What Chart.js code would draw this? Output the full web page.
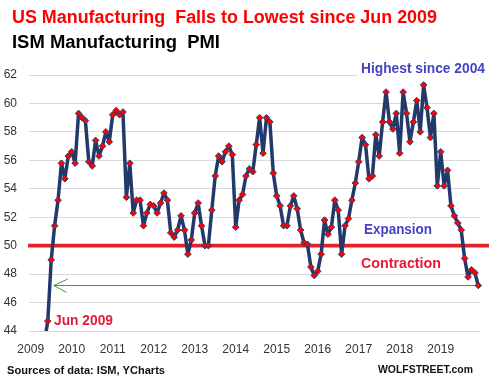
<!DOCTYPE html>
<html>
<head>
<meta charset="utf-8">
<script src="https://cdn.jsdelivr.net/npm/chart.js@4.4.1/dist/chart.umd.min.js"></script>
<style>
  html, body { margin: 0; padding: 0; background: #fff; }
  #wrap { position: relative; width: 489px; height: 384px; overflow: hidden; background: #fff; }
  #c { position: absolute; left: 0; top: 0; }
  .t { position: absolute; white-space: pre; line-height: 1; font-family: "Liberation Sans", Arial, sans-serif; font-weight: bold; transform-origin: 0 0; }
  .box { position: absolute; background: #fff; }
</style>
</head>
<body>
<div id="wrap">
  <canvas id="c" width="489" height="384"></canvas>
  <div class="t" data-w="425" style="left:12px; top:7.8px; font-size:18px; color:#ff0000;">US Manufacturing  Falls to Lowest since Jun 2009</div>
  <div class="t" data-w="208" style="left:12px; top:32.8px; font-size:18px; color:#000;">ISM Manufacturing  PMI</div>
  <div class="box" style="left:357px; top:60px; width:132px; height:17px;"></div>
  <div class="t" data-w="124" style="left:361px; top:60.3px; font-size:15px; color:#4343c8;">Highest since 2004</div>
  <div class="t" data-w="68" style="left:364px; top:222px; font-size:14.5px; color:#4343c8;">Expansion</div>
  <div class="t" data-w="80" style="left:361px; top:256px; font-size:14.5px; color:#e8183a;">Contraction</div>
  <div class="t" data-w="59" style="left:54px; top:311.5px; font-size:15px; color:#e8183a;">Jun 2009</div>
  <div class="t" data-w="158" style="left:7px; top:364.7px; font-size:11px; color:#111;">Sources of data: ISM, YCharts</div>
  <div class="t" data-w="95" style="left:378px; top:364.3px; font-size:11.5px; color:#111;">WOLFSTREET.com</div>
</div>
<script>
// ---- data ----
const startYear = 2009;
const startMonth = 5; // May 2009 (May value falls below the axis and is clipped)
const pmi = [
  // 2009 May-Dec
  43.2, 44.7, 49.0, 51.4, 53.2, 55.8, 54.7, 56.3,
  // 2010
  56.6, 55.8, 59.3, 59.0, 58.8, 55.9, 55.6, 57.4, 56.3, 57.0, 58.0, 57.3,
  // 2011
  59.2, 59.5, 59.2, 59.4, 53.4, 55.8, 52.3, 53.2, 53.2, 51.4, 52.3, 52.9,
  // 2012
  52.8, 52.3, 53.0, 53.7, 53.2, 50.9, 50.6, 51.1, 52.1, 51.1, 49.4, 50.4,
  // 2013
  52.3, 53.0, 51.4, 50.0, 50.0, 52.5, 54.9, 56.3, 55.9, 56.6, 57.0, 56.4,
  // 2014
  51.3, 53.2, 53.6, 54.9, 55.4, 55.2, 57.1, 59.0, 56.5, 59.0, 58.7, 55.1,
  // 2015
  53.5, 52.8, 51.4, 51.4, 52.8, 53.5, 52.6, 51.1, 50.2, 50.1, 48.5, 47.9,
  // 2016
  48.2, 49.4, 51.8, 50.8, 51.3, 53.2, 52.5, 49.4, 51.4, 51.9, 53.2, 54.4,
  // 2017
  55.9, 57.6, 57.1, 54.7, 54.9, 57.8, 56.3, 58.7, 60.8, 58.7, 58.2, 59.3,
  // 2018
  56.5, 60.8, 59.3, 57.3, 58.7, 60.2, 58.0, 61.3, 59.7, 57.6, 59.3, 54.2,
  // 2019
  56.6, 54.2, 55.3, 52.8, 52.1, 51.6, 51.1, 49.1, 47.8, 48.3, 48.1, 47.2
];
const yearLabels = [2009, 2010, 2011, 2012, 2013, 2014, 2015, 2016, 2017, 2018, 2019];
const yMin = 44, yMax = 62, yStep = 2;
const expansionLevel = 50;

// months since Jan of the first year label
const points = pmi.map((v, i) => ({ x: (startMonth - 1) + i, y: v }));
const xMin = -0.5;
const xMax = (yearLabels[yearLabels.length - 1] - yearLabels[0] + 1) * 12 - 0.5;

const refLines = {
  id: 'refLines',
  beforeDatasetsDraw(chart) {
    const { ctx, chartArea } = chart;
    const xs = chart.scales.x, ys = chart.scales.y;
    // 50 line
    const y50 = ys.getPixelForValue(expansionLevel);
    ctx.save();
    ctx.strokeStyle = '#e3222b';
    ctx.lineWidth = 3.6;
    ctx.beginPath();
    ctx.moveTo(chartArea.left - 1, y50);
    ctx.lineTo(chart.width, y50);
    ctx.stroke();
    // green arrow from last value back to where it was first crossed
    const last = points[points.length - 1];
    let crossX = points[0].x;
    for (let i = 0; i < points.length - 1; i++) {
      const a = points[i], b = points[i + 1];
      if ((a.y - last.y) * (b.y - last.y) <= 0) {
        crossX = a.x + (last.y - a.y) / (b.y - a.y) * (b.x - a.x);
        break;
      }
    }
    const yA = Math.round(ys.getPixelForValue(last.y)) + 0.5;
    const tipX = xs.getPixelForValue(crossX) + 4;
    const endX = xs.getPixelForValue(last.x);
    ctx.strokeStyle = '#3a9e3a';
    ctx.lineWidth = 1;
    ctx.beginPath();
    ctx.moveTo(tipX, yA);
    ctx.lineTo(endX, yA);
    ctx.moveTo(tipX + 14, yA - 6.5);
    ctx.lineTo(tipX, yA);
    ctx.lineTo(tipX + 13, yA + 7);
    ctx.stroke();
    ctx.restore();
  }
};

new Chart(document.getElementById('c'), {
  type: 'line',
  data: {
    datasets: [{
      data: points,
      borderColor: '#213a6b',
      borderWidth: 3.5,
      borderJoinStyle: 'round',
      borderCapStyle: 'round',
      tension: 0,
      pointStyle: 'rectRot',
      pointRadius: 3.3,
      pointBackgroundColor: '#ff0000',
      pointBorderColor: '#2a3f6e',
      pointBorderWidth: 1,
      fill: false,
      clip: { left: 5, right: 10, top: 5, bottom: 0 }
    }]
  },
  options: {
    responsive: false,
    animation: false,
    devicePixelRatio: 1,
    layout: { padding: { top: 75, right: 9, left: 0, bottom: 0 } },
    plugins: { legend: { display: false }, tooltip: { enabled: false }, title: { display: false } },
    scales: {
      x: {
        type: 'linear',
        min: xMin,
        max: xMax,
        afterBuildTicks(scale) {
          scale.ticks = yearLabels.map(y => ({ value: (y - yearLabels[0]) * 12 }));
        },
        afterFit(scale) { scale.height = 53; },
        grid: { display: false, drawTicks: false },
        border: { display: false },
        ticks: {
          autoSkip: false,
          maxRotation: 0,
          padding: 11,
          color: '#333',
          font: { family: 'Liberation Sans', size: 12 },
          callback: (v) => String(yearLabels[0] + Math.round(v / 12))
        }
      },
      y: {
        min: yMin,
        max: yMax,
        afterFit(scale) { scale.width = 29; },
        grid: { color: '#d9d9d9', lineWidth: 1, drawTicks: false },
        border: { display: false },
        ticks: {
          stepSize: yStep,
          padding: 12,
          color: '#333',
          font: { family: 'Liberation Sans', size: 12 }
        }
      }
    }
  },
  plugins: [refLines]
});

// fit text widths to the reference
document.querySelectorAll('.t[data-w]').forEach(el => {
  const w = el.getBoundingClientRect().width;
  const target = parseFloat(el.dataset.w);
  if (w > 0) el.style.transform = 'scaleX(' + (target / w).toFixed(4) + ')';
});
</script>
</body>
</html>
